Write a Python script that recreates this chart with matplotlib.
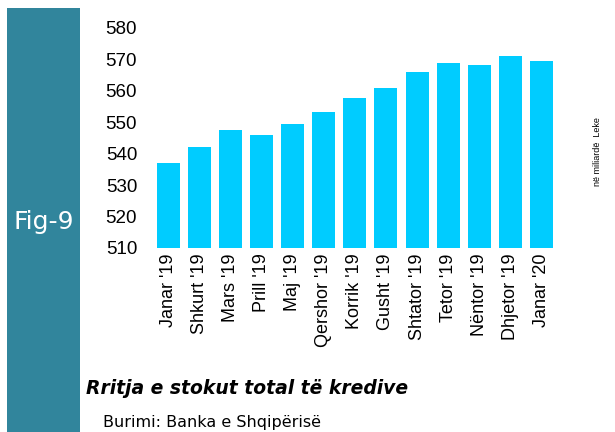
import matplotlib
matplotlib.use("Agg")
from matplotlib import pyplot as plt
from matplotlib.patches import Rectangle

# stoku i kredise, mld leke
muajt = ["Janar '19", "Shkurt '19", "Mars '19", "Prill '19", "Maj '19",
         "Qershor '19", "Korrik '19", "Gusht '19", "Shtator '19",
         "Tetor '19", "Nëntor '19", "Dhjetor '19", "Janar '20"]
vlerat = [537.0, 542.1, 547.5, 546.0, 549.4, 553.3, 557.7,
          561.0, 566.0, 568.9, 568.2, 571.1, 569.5]
yticks = [510, 520, 530, 540, 550, 560, 570, 580]

plt.rcParams['font.family'] = 'Liberation Sans'

fig = plt.figure(figsize=(6.15, 4.32), dpi=100)

# shiriti majtas me Fig-9
fig.patches.append(Rectangle((7/615, 0), 73/615, 424/432, transform=fig.transFigure,
                             facecolor='#31859C', edgecolor='none'))
fig.text(44/615, 1 - 222/432, 'Fig-9', color='white', fontsize=18,
         family='DejaVu Sans', ha='center', va='center')

ax = fig.add_axes([149.6/615, 1 - 248/432, 410.5/615, 220/432])
x = range(len(muajt))
ax.bar(x, vlerat, width=0.74, color='#00CCFF')
ax.set_ylim(510, 580)
ax.set_xlim(-0.6, 12.6)
ax.set_yticks(yticks)
ax.set_yticklabels([str(v) for v in yticks], fontsize=13.5)
ax.set_xticks(list(x))
ax.set_xticklabels(muajt, rotation=90, fontsize=13)
ax.tick_params(axis='y', length=0, pad=9)
ax.tick_params(axis='x', length=0, pad=4)
for s in ax.spines.values():
    s.set_visible(False)

fig.text(598/615, 1 - 152/432, 'në miliardë  Leke', rotation=90, fontsize=6.5,
         ha='center', va='center')
fig.text(86/615, 1 - 388/432, 'Rritja e stokut total të kredive', fontsize=13.5,
         family='DejaVu Sans', fontweight='bold', fontstyle='italic',
         ha='left', va='center')
fig.text(103/615, 1 - 423/432, 'Burimi: Banka e Shqipërisë', fontsize=11.5,
         family='DejaVu Sans', ha='left', va='center')

fig.savefig('out.png', dpi=100)
